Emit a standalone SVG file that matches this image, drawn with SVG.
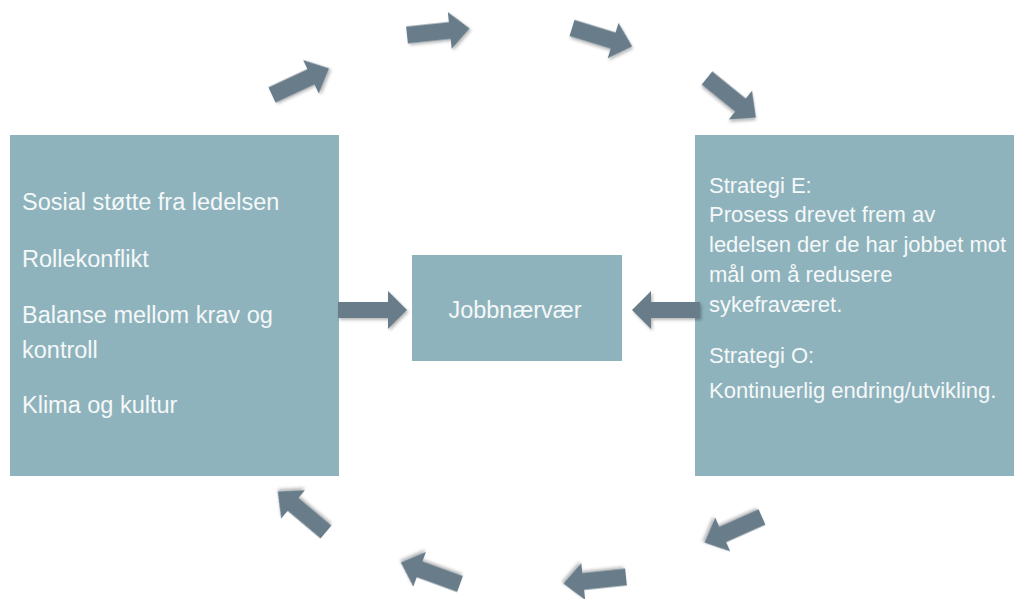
<svg xmlns="http://www.w3.org/2000/svg" width="1014" height="599" viewBox="0 0 1014 599">
  <defs>
    <style>
      .box { fill: #8eb3bc; }
      .lbl { font-family: "Liberation Sans", Arial, sans-serif; fill: #f5f8f9; }
      .big { font-size: 23.5px; }
      .mid { font-size: 22px; }
      .arr { fill: #687b89; filter: url(#shade); }
    </style>
    <filter id="shade" x="-30%" y="-30%" width="160%" height="160%">
      <feDropShadow dx="1.5" dy="2" stdDeviation="1.5" flood-color="#000" flood-opacity="0.28"/>
    </filter>
    <!-- block arrow pointing along +x, tail centre at origin -->
    <path id="blk" d="M0,-8.5 H43 V-18.5 L63,0 L43,18.5 V8.5 H0 Z"/>
  </defs>

  <rect width="1014" height="599" fill="#ffffff"/>

  <g id="factors">
    <rect class="box" x="10" y="135" width="329" height="341"/>
    <text class="lbl big" x="22" y="210">Sosial støtte fra ledelsen</text>
    <text class="lbl big" x="22" y="267">Rollekonflikt</text>
    <text class="lbl big" x="22" y="323">Balanse mellom krav og</text>
    <text class="lbl big" x="22" y="358">kontroll</text>
    <text class="lbl big" x="22" y="413">Klima og kultur</text>
  </g>

  <g id="center">
    <rect class="box" x="412" y="255" width="210" height="106"/>
    <text class="lbl big" x="515" y="318" text-anchor="middle">Jobbnærvær</text>
  </g>

  <g id="strategies">
    <rect class="box" x="695" y="135" width="319" height="341"/>
    <text class="lbl mid" x="709" y="193">Strategi E:</text>
    <text class="lbl mid" x="709" y="222">Prosess drevet frem av</text>
    <text class="lbl mid" x="709" y="252">ledelsen der de har jobbet mot</text>
    <text class="lbl mid" x="709" y="282">mål om å redusere</text>
    <text class="lbl mid" x="709" y="312">sykefraværet.</text>
    <text class="lbl mid" x="709" y="363">Strategi O:</text>
    <text class="lbl mid" x="709" y="398">Kontinuerlig endring/utvikling.</text>
  </g>

  <g id="connectors">
    <!-- into the centre box -->
    <path class="arr" d="M338,302 H388 V291 L407,310 L388,329 V318 H338 Z"/>
    <path class="arr" d="M700,302 H651 V291 L632,310 L651,329 V318 H700 Z"/>
    <!-- cycle around the boxes -->
    <use class="arr" href="#blk" transform="translate(272,95) rotate(-25)"/>
    <use class="arr" href="#blk" transform="translate(407,35) rotate(-6)"/>
    <use class="arr" href="#blk" transform="translate(572,28) rotate(17)"/>
    <use class="arr" href="#blk" transform="translate(707,78) rotate(39)"/>
    <use class="arr" href="#blk" transform="translate(762,517) rotate(156)"/>
    <use class="arr" href="#blk" transform="translate(626,577) rotate(174)"/>
    <use class="arr" href="#blk" transform="translate(460,584) rotate(200)"/>
    <use class="arr" href="#blk" transform="translate(326,532) rotate(220)"/>
  </g>
</svg>
